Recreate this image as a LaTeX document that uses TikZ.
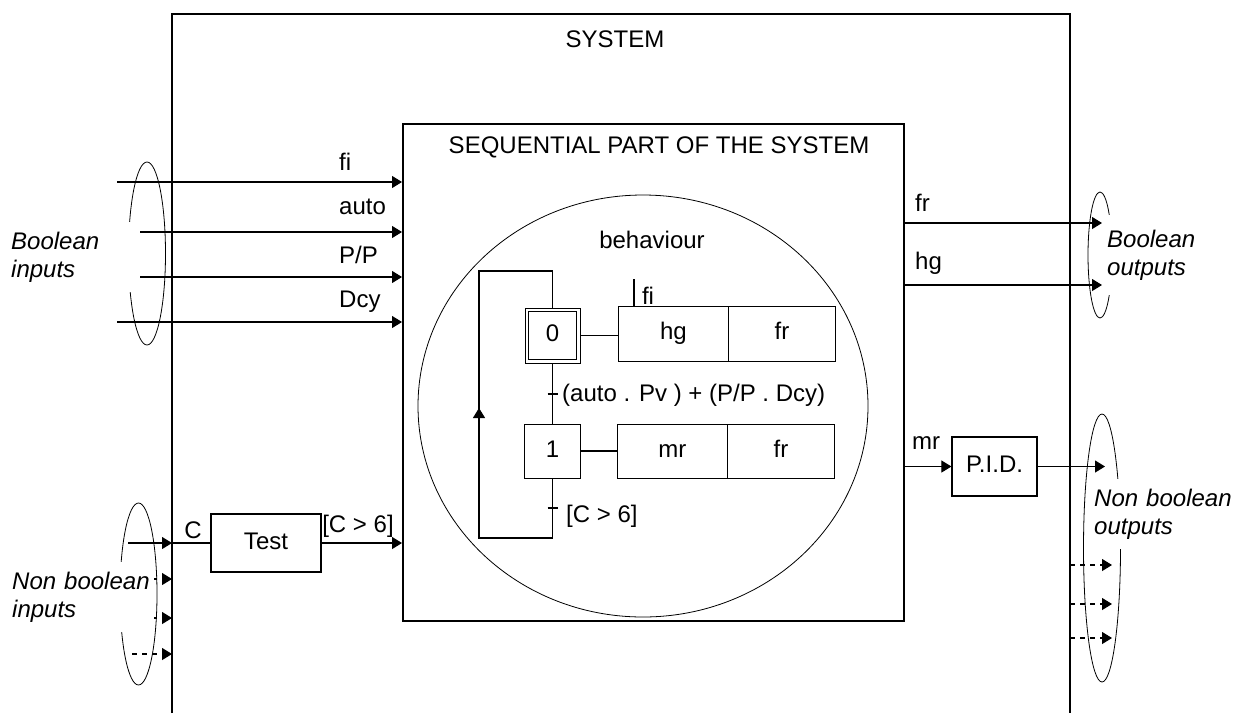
\documentclass[tikz,border=0pt]{standalone}
\usepackage{fontspec}
\setmainfont{Liberation Sans}
\usetikzlibrary{arrows.meta}
\begin{document}
\begin{tikzpicture}[x=1pt,y=-1pt,
  every node/.style={font=\fontsize{24}{28}\selectfont},
  frame/.style={line width=1.6pt},
  conn/.style={line width=1.1pt},
  arr/.style={conn,-{Triangle[length=10pt,width=12pt]}},
  darr/.style={arr,dash pattern=on 5pt off 5pt},
  grpell/.style={line width=0.8pt},
  lbl/.style={inner sep=0pt},
  grp/.style={fill=white,anchor=north west,align=left,inner xsep=1pt,inner ysep=0pt,minimum height=70pt,font=\fontsize{24}{28}\selectfont\itshape},
  stepbox/.style={draw,line width=0.9pt,inner sep=0pt,text height=17pt,text depth=5pt},
  actbox/.style={draw,line width=0.9pt,inner sep=0pt,minimum height=55pt,text height=17pt,text depth=5pt},
  sbox/.style={draw,line width=1.2pt,inner sep=0pt,text height=17pt,text depth=5pt}
]
\useasboundingbox (0,0) rectangle (1241,713);
\fill[white] (0,0) rectangle (1241,713);

% system frame
\coordinate (frameL) at (172,14);
\coordinate (frameR) at (1070,14);
\draw[frame] (172,713) -- (frameL) -- (frameR) -- (1070,713);
\node[lbl] (systitle) at (615,39) {SYSTEM};

% sequential part
\node[draw,frame,minimum width=501pt,minimum height=497pt,anchor=north west,inner sep=0pt] (seq) at (402,123) {};
\node[lbl] (seqtitle) at (659,147) {SEQUENTIAL PART OF THE SYSTEM};

\draw[grpell] (643,406) ellipse [x radius=225pt, y radius=211pt];
\node[lbl] (behtitle) at (652,240) {behaviour};

% grafcet
\node[stepbox,minimum size=55pt] (s0) at (552.5,335.5) {0};
\node[stepbox,minimum size=48pt] (s0in) at (s0) {};
\node[stepbox,minimum width=56pt,minimum height=54pt] (s1) at (552.5,451) {1};

\node[actbox,minimum width=110pt,anchor=north west] (a0l) at (618,306) {hg};
\node[actbox,minimum width=107pt,anchor=north west] (a0r) at (728,306) {fr};
\node[actbox,minimum width=110pt,minimum height=54pt,anchor=north west] (a1l) at (617,424) {mr};
\node[actbox,minimum width=107pt,minimum height=54pt,anchor=north west] (a1r) at (727,424) {fr};

\draw[conn] (s0.east) -- (s0.east -| a0l.west);
\draw[conn] (s1.east) -- (s1.east -| a1l.west);
\draw[conn] (s0.south) -- (s1.north);

\coordinate (fitop) at (634,279);
\draw[conn] (fitop) -- (fitop |- a0l.north);
\node[lbl] (filbl) at (648,296) {fi};

\coordinate (loopbl) at (479,538);
\coordinate (looptl) at (479,271);
\coordinate (looparr) at (479,408);
\draw[conn] (s1.south) |- (loopbl) -- (looptl) -| (s0.north);
\draw[arr] (loopbl) -- (looparr);

\coordinate (tr1) at (552.5,394);
\coordinate (tr2) at (552.5,508);
\draw[conn] ([xshift=-5pt]tr1) -- ([xshift=5pt]tr1);
\draw[conn] ([xshift=-5pt]tr2) -- ([xshift=5pt]tr2);
\node[lbl,anchor=west] (tr1lbl) at (562,395) {(auto . Pv ) + (P/P . Dcy)};
\node[lbl,anchor=west] (tr2lbl) at (566,516) {[C > 6]};

% boolean inputs
\coordinate (infi) at (117,182);
\coordinate (inauto) at (117,232);
\coordinate (inpp) at (117,277);
\coordinate (indcy) at (117,322);
\draw[arr] (infi) -- (infi -| seq.west);
\draw[arr] (inauto) -- (inauto -| seq.west);
\draw[arr] (inpp) -- (inpp -| seq.west);
\draw[arr] (indcy) -- (indcy -| seq.west);
\node[lbl,anchor=west] (lfi) at (339,162) {fi};
\node[lbl,anchor=west] (lauto) at (339,207) {auto};
\node[lbl,anchor=west] (lpp) at (339,255) {P/P};
\node[lbl,anchor=west] (ldcy) at (339,302) {Dcy};
\draw[grpell] (147,253.5) ellipse [x radius=18.5pt, y radius=91.5pt];

% non boolean inputs
\node[sbox,minimum width=110pt,minimum height=58pt] (test) at (266,543) {Test};
\coordinate (cin) at (128,543);
\draw[arr] (cin) -- (cin -| frameL);
\draw[conn] (cin -| frameL) -- (test.west);
\node[lbl] (clbl) at (193,530) {C};
\draw[arr] (test.east) -- (test.east -| seq.west);
\node[lbl] (testout) at (358,526) {[C > 6]};

\coordinate (nb1) at (132,579);
\coordinate (nb2) at (132,618);
\coordinate (nb3) at (132,654);
\draw[darr] (nb1) -- (nb1 -| frameL);
\draw[darr] (nb2) -- (nb2 -| frameL);
\draw[darr] (nb3) -- (nb3 -| frameL);
\draw[grpell] (138.5,594) ellipse [x radius=18.5pt, y radius=91pt];

% boolean outputs
\coordinate (frout) at (1102,223);
\coordinate (hgout) at (1102,285);
\draw[arr] (frout -| seq.east) -- (frout);
\draw[arr] (hgout -| seq.east) -- (hgout);
\node[lbl,anchor=west] (lfr) at (915,203) {fr};
\node[lbl,anchor=west] (lhg) at (915,263) {hg};
\draw[grpell] (1100,255) ellipse [x radius=12pt, y radius=63pt];

% non boolean outputs
\node[sbox,minimum width=85pt,minimum height=59pt] (pid) at (994.5,466.5) {P.I.D.};
\draw[arr] (seq.east |- pid.west) -- (pid.west);
\node[lbl,anchor=west] (lmr) at (912,443) {mr};
\coordinate (pidout) at (1105,466.5);
\draw[arr] (pid.east) -- (pidout);
\coordinate (nbo1) at (1112,565);
\coordinate (nbo2) at (1112,604);
\coordinate (nbo3) at (1112,638);
\draw[darr] (nbo1 -| frameR) -- (nbo1);
\draw[darr] (nbo2 -| frameR) -- (nbo2);
\draw[darr] (nbo3 -| frameR) -- (nbo3);
\draw[grpell] (1102,548) ellipse [x radius=18.5pt, y radius=134pt];

% group labels (white boxes hide parts of the ellipses)
\node[grp,text width=128pt] (gbi) at (10,222) {Boolean\\inputs};
\node[grp,text width=141pt] (gnbi) at (11,562) {Non boolean\\inputs};
\node[grp,text width=133pt,minimum height=80pt] (gbo) at (1106,215) {Boolean\\outputs};
\node[grp,text width=146pt] (gnbo) at (1093,479) {Non boolean\\outputs};
\end{tikzpicture}
\end{document}
